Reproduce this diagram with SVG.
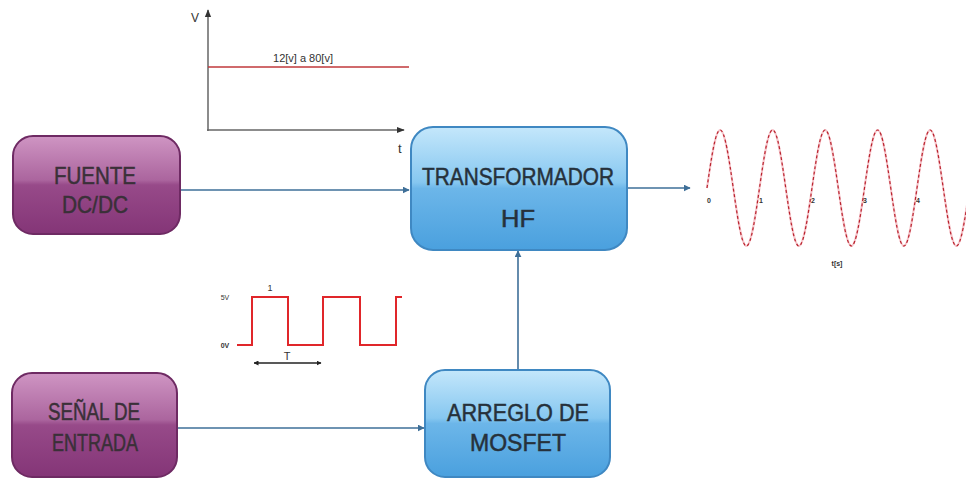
<svg xmlns="http://www.w3.org/2000/svg" width="966" height="482" viewBox="0 0 966 482">
<defs>
<linearGradient id="gPurple" x1="0" y1="0" x2="0" y2="1">
<stop offset="0" stop-color="#cf95c3"/>
<stop offset="0.45" stop-color="#ab659e"/>
<stop offset="0.5" stop-color="#974a89"/>
<stop offset="1" stop-color="#843577"/>
</linearGradient>
<linearGradient id="gBlue" x1="0" y1="0" x2="0" y2="1">
<stop offset="0" stop-color="#c4e7fb"/>
<stop offset="0.45" stop-color="#86c7f0"/>
<stop offset="0.5" stop-color="#6cb6e9"/>
<stop offset="1" stop-color="#4aa0de"/>
</linearGradient>
<marker id="arr" viewBox="0 0 10 10" refX="9" refY="5" markerWidth="7" markerHeight="7" markerUnits="userSpaceOnUse" orient="auto">
<path d="M0,0 L10,5 L0,10 Z" fill="#3e6f98"/>
</marker>
<marker id="axArr" viewBox="0 0 10 10" refX="9" refY="5" markerWidth="8" markerHeight="8" markerUnits="userSpaceOnUse" orient="auto">
<path d="M0,1 L10,5 L0,9 Z" fill="#333"/>
</marker>
<marker id="tArr" viewBox="0 0 10 10" refX="9" refY="5" markerWidth="5" markerHeight="5" markerUnits="userSpaceOnUse" orient="auto-start-reverse">
<path d="M0,0 L10,5 L0,10 Z" fill="#222"/>
</marker>
</defs>
<style>
.purple{fill:url(#gPurple);stroke:#6e2a63;stroke-width:2}
.blue{fill:url(#gBlue);stroke:#3f88c2;stroke-width:2}
.lbl{font-family:"Liberation Sans Narrow","Liberation Sans",Arial,sans-serif;font-size:24px;text-anchor:middle;stroke-width:0.5}
.pl{fill:#3a3038;stroke:#3a3038}
.bl{fill:#26313b;stroke:#26313b}
.conn{stroke:#3e6f98;stroke-width:1.6;fill:none}
.axis{stroke:#666;stroke-width:1.5;fill:none}
.small{font-family:"Liberation Sans",Arial,sans-serif;fill:#333}
</style>

<g id="dc-graph">
<line class="axis" x1="208" y1="131" x2="208" y2="10" marker-end="url(#axArr)"/>
<line class="axis" x1="207" y1="130" x2="404" y2="130" marker-end="url(#axArr)"/>
<line x1="208" y1="67" x2="409" y2="67" stroke="#c0393b" stroke-width="1.6"/>
<text class="small" x="191" y="22" font-size="12">V</text>
<text class="small" x="398" y="153" font-size="13" fill="#222">t</text>
<text class="small" x="303" y="62" font-size="11" text-anchor="middle">12[v] a 80[v]</text>
</g>

<g id="square-graph">
<path d="M237,345 H252 V297 H288 V345 H323 V297 H360 V345 H396 V297 H402" fill="none" stroke="#e0262a" stroke-width="2"/>
<line x1="254" y1="363" x2="321" y2="363" stroke="#222" stroke-width="1.3" marker-start="url(#tArr)" marker-end="url(#tArr)"/>
<text class="small" x="287" y="360" font-size="11" text-anchor="middle">T</text>
<text class="small" x="270" y="291" font-size="9" text-anchor="middle">1</text>
<text class="small" x="225" y="300" font-size="7" text-anchor="middle">5V</text>
<text class="small" x="225" y="348" font-size="7" text-anchor="middle" font-weight="bold">0V</text>
</g>

<g id="sine-graph">
<path d="M707,188 c4.28,-29.7 8.37,-58 13.125,-58 c4.755,0 8.845,28.3 13.125,58 c4.28,29.7 8.37,58 13.125,58 c4.755,0 8.845,-28.3 13.125,-58 c4.28,-29.7 8.37,-58 13.125,-58 c4.755,0 8.845,28.3 13.125,58 c4.28,29.7 8.37,58 13.125,58 c4.755,0 8.845,-28.3 13.125,-58 c4.28,-29.7 8.37,-58 13.125,-58 c4.755,0 8.845,28.3 13.125,58 c4.28,29.7 8.37,58 13.125,58 c4.755,0 8.845,-28.3 13.125,-58 c4.28,-29.7 8.37,-58 13.125,-58 c4.755,0 8.845,28.3 13.125,58 c4.28,29.7 8.37,58 13.125,58 c4.755,0 8.845,-28.3 13.125,-58 c4.28,-29.7 8.37,-58 13.125,-58 c4.755,0 8.845,28.3 13.125,58 c4.28,29.7 8.37,58 13.125,58 c4.755,0 8.845,-28.3 13.125,-58" fill="none" stroke="#f6c4ca" stroke-width="2"/>
<path d="M707,188 c4.28,-29.7 8.37,-58 13.125,-58 c4.755,0 8.845,28.3 13.125,58 c4.28,29.7 8.37,58 13.125,58 c4.755,0 8.845,-28.3 13.125,-58 c4.28,-29.7 8.37,-58 13.125,-58 c4.755,0 8.845,28.3 13.125,58 c4.28,29.7 8.37,58 13.125,58 c4.755,0 8.845,-28.3 13.125,-58 c4.28,-29.7 8.37,-58 13.125,-58 c4.755,0 8.845,28.3 13.125,58 c4.28,29.7 8.37,58 13.125,58 c4.755,0 8.845,-28.3 13.125,-58 c4.28,-29.7 8.37,-58 13.125,-58 c4.755,0 8.845,28.3 13.125,58 c4.28,29.7 8.37,58 13.125,58 c4.755,0 8.845,-28.3 13.125,-58 c4.28,-29.7 8.37,-58 13.125,-58 c4.755,0 8.845,28.3 13.125,58 c4.28,29.7 8.37,58 13.125,58 c4.755,0 8.845,-28.3 13.125,-58" fill="none" stroke="#b8232e" stroke-width="1.2" stroke-dasharray="3 2.5"/>
<text class="small" x="709" y="203" font-size="7" text-anchor="middle" font-weight="bold">0</text>
<text class="small" x="761" y="203" font-size="7" text-anchor="middle" font-weight="bold">1</text>
<text class="small" x="813" y="203" font-size="7" text-anchor="middle" font-weight="bold">2</text>
<text class="small" x="865" y="203" font-size="7" text-anchor="middle" font-weight="bold">3</text>
<text class="small" x="918" y="203" font-size="7" text-anchor="middle" font-weight="bold">4</text>
<text class="small" x="837" y="266" font-size="7" text-anchor="middle" font-weight="bold">t[s]</text>
</g>

<g id="connectors">
<line class="conn" x1="181" y1="190" x2="409" y2="190" marker-end="url(#arr)"/>
<line class="conn" x1="627" y1="188" x2="690" y2="188" marker-end="url(#arr)"/>
<line class="conn" x1="518" y1="369" x2="518" y2="251" marker-end="url(#arr)"/>
<line class="conn" x1="177" y1="428" x2="424" y2="428" marker-end="url(#arr)"/>
</g>

<g id="fuente">
<rect class="purple" x="13" y="136" width="167" height="98" rx="20"/>
<text class="lbl pl" x="95" y="184" textLength="82" lengthAdjust="spacingAndGlyphs">FUENTE</text>
<text class="lbl pl" x="95" y="213" textLength="66" lengthAdjust="spacingAndGlyphs">DC/DC</text>
</g>

<g id="transformador">
<rect class="blue" x="411" y="127" width="216" height="123" rx="22"/>
<text class="lbl bl" x="518" y="185" font-size="26" textLength="192" lengthAdjust="spacingAndGlyphs">TRANSFORMADOR</text>
<text class="lbl bl" x="518" y="227" font-size="26" textLength="34" lengthAdjust="spacingAndGlyphs">HF</text>
</g>

<g id="senal">
<rect class="purple" x="12" y="373" width="165" height="104" rx="20"/>
<text class="lbl pl" x="94" y="420" textLength="92" lengthAdjust="spacingAndGlyphs">SEÑAL DE</text>
<text class="lbl pl" x="95" y="451" textLength="86" lengthAdjust="spacingAndGlyphs">ENTRADA</text>
</g>

<g id="mosfet">
<rect class="blue" x="425" y="370" width="185" height="107" rx="20"/>
<text class="lbl bl" x="518" y="421" textLength="142" lengthAdjust="spacingAndGlyphs">ARREGLO DE</text>
<text class="lbl bl" x="518" y="451" textLength="96" lengthAdjust="spacingAndGlyphs">MOSFET</text>
</g>
</svg>
